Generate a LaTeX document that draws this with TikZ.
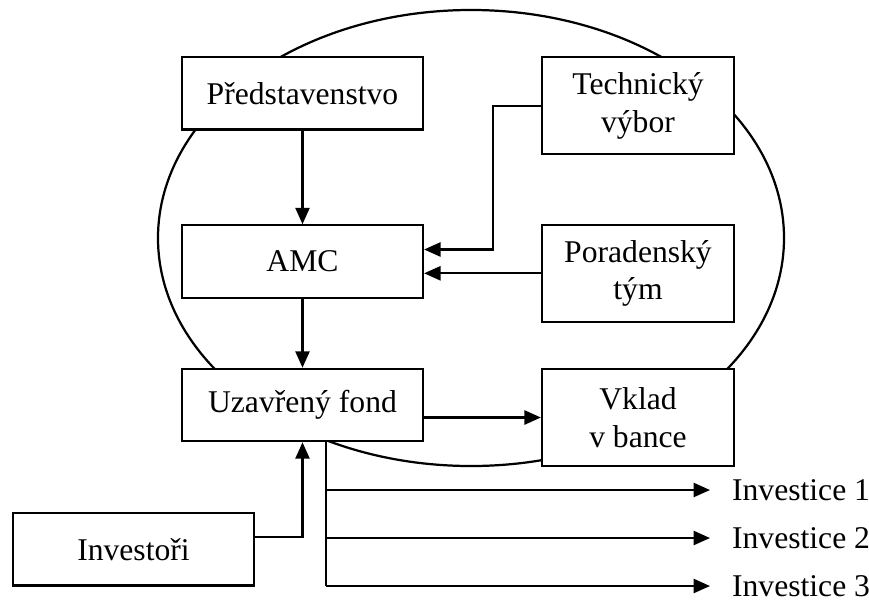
\documentclass[tikz,border=0pt]{standalone}
\usepackage{fontspec}
\setmainfont{Liberation Serif}
\usetikzlibrary{arrows.meta,positioning}

\begin{document}
\begin{tikzpicture}[x=0.03cm,y=-0.03cm,line width=1.9pt,
    box/.style={draw,fill=white,inner sep=0pt,align=center,minimum width=7.23cm,minimum height=2.17cm},
    sidebox/.style={box,minimum width=5.76cm,minimum height=2.9cm},
    invlabel/.style={anchor=west,inner xsep=0.63cm,inner ysep=0pt},
    arr/.style={-{Triangle[length=14pt,width=12pt]}},
    every node/.style={font=\fontsize{27pt}{32pt}\selectfont}]
    \useasboundingbox (0,0) rectangle (869,606);
    % outline round the fund
    \draw (471,238) ellipse [x radius=9.39cm, y radius=6.84cm];
    % boxes
    \node[box] (pred) at (302.5,93.3) {Představenstvo};
    \node[sidebox] (tech) at (638,105.7) {Technický\\výbor};
    \node[box] (amc) at (302.5,261.5) {AMC};
    \node[sidebox] (pora) at (638,273.3) {Poradenský\\tým};
    \node[box] (fond) at (302.5,405) {Uzavřený fond};
    \node[sidebox] (vklad) at (638,417.5) {Vklad\\v bance};
    \node[box] (inv) at (133.5,549.4) {Investoři};
    % investments
    \node[invlabel] (inv1) at (710,490) {Investice 1};
    \node[invlabel] (inv2) at (710,538) {Investice 2};
    \node[invlabel] (inv3) at (710,586) {Investice 3};
    \coordinate (split) at ([xshift=0.71cm]fond.south);
    % connectors
    \draw[arr] (pred) -- (amc);
    \draw[arr] (tech.west) -- ++(-48,0) |- ([yshift=0.36cm]amc.east);
    \draw[arr] (pora.west) -- (pora.west -| amc.east);
    \draw[arr] (amc) -- (fond);
    \draw[arr] (vklad.west -| fond.east) -- (vklad.west);
    \draw[arr] ([yshift=0.375cm]inv.east) -| (fond.south);
    \draw (split) -- (split |- inv3.west);
    \draw[arr] (split |- inv1.west) -- (inv1.west);
    \draw[arr] (split |- inv2.west) -- (inv2.west);
    \draw[arr] (split |- inv3.west) -- (inv3.west);
\end{tikzpicture}
\end{document}
